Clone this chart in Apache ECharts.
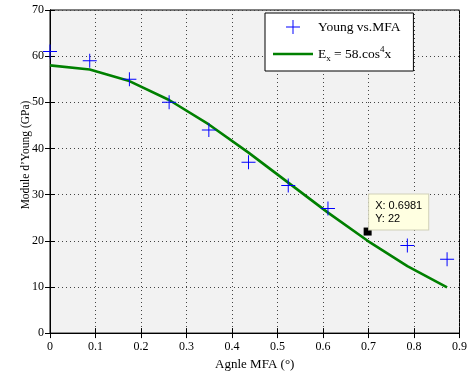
<!DOCTYPE html>
<html><head><meta charset="utf-8">
<script src="https://cdn.jsdelivr.net/npm/echarts@6/dist/echarts.min.js"></script>
<style>html,body{margin:0;padding:0;background:#fff}#c{width:470px;height:376px}</style>
</head><body><div id="c"></div>
<script>
// Data
const angleRad = [0, 0.0873, 0.1745, 0.2618, 0.3491, 0.4363, 0.5236, 0.6109, 0.7854, 0.8727];
const youngMeasured = [61, 59, 55, 50, 44, 37, 32, 27, 19, 16];
const fitAngle = [0, 0.0873, 0.1745, 0.2618, 0.3491, 0.4363, 0.5236, 0.6109, 0.6981, 0.7854, 0.8727];
const fitValues = [58, 57.1, 54.6, 50.5, 45.2, 39.1, 32.6, 26.1, 20.0, 14.5, 9.9];
const tipPoint = [0.6981, 22];
const xTickLabels = ['0','0.1','0.2','0.3','0.4','0.5','0.6','0.7','0.8','0.9'];
const yTickLabels = ['0','10','20','30','40','50','60','70'];

const serif = 'Liberation Serif';
const plus = 'path://M0,9.3h20v1.4h-20zM9.3,0h1.4v20h-1.4z';
const lineIcon = 'path://M0,0h40v2.6h-40z';
const gridLine = {show:true, lineStyle:{color:'#444', type:[1,3], width:1}};

const chart = echarts.init(document.getElementById('c'), null, {renderer:'canvas'});
chart.setOption({
  backgroundColor:'#fff',
  animation:false,
  grid:{left:50, right:9, top:10, bottom:38, show:true, backgroundColor:'#f2f2f2', borderColor:'#000', borderWidth:1},
  graphic:[{
    type:'text', x:26, y:155, rotation:Math.PI/2,
    style:{text:'Module d’Young (GPa)', fontFamily:serif, fontSize:11.5, fill:'#000', align:'center', verticalAlign:'middle'}
  }],
  legend:{
    left:265, top:13, orient:'vertical',
    backgroundColor:'#fff', borderColor:'#000', borderWidth:1, borderRadius:0,
    padding:[7,13,8,8], itemWidth:40, itemHeight:14, itemGap:11,
    textStyle:{fontFamily:serif, fontSize:13.5, color:'#000',
      rich:{
        n:{fontFamily:serif, fontSize:13.5, color:'#000'},
        sub:{fontFamily:serif, fontSize:9, color:'#000', padding:[9,0,0,0]},
        sup:{fontFamily:serif, fontSize:9, color:'#000', padding:[0,0,9,0]}
      }},
    formatter: function(name){
      if(name==='fit') return '{n|E}{sub|x}{n| = 58.cos}{sup|4}{n|x}';
      return name;
    },
    data:[
      {name:'Young vs.MFA', icon:plus, itemStyle:{color:'#0000ff'}},
      {name:'fit', icon:lineIcon, itemStyle:{color:'#008000'}}
    ]
  },
  xAxis:[{
    type:'value', min:0, max:0.9, interval:0.1,
    name:'Agnle MFA (°)', nameLocation:'middle', nameGap:21,
    nameTextStyle:{fontFamily:serif, fontSize:13, color:'#000'},
    axisLine:{show:true, lineStyle:{color:'#000', width:1}},
    axisTick:{show:true, inside:true, length:5, lineStyle:{color:'#000'}},
    axisLabel:{fontFamily:serif, fontSize:12, color:'#000', margin:8,
      formatter:(v,i)=>xTickLabels[i]},
    splitLine:gridLine
  },{
    type:'value', position:'top', min:0, max:0.9, interval:0.1,
    axisLine:{show:true, lineStyle:{color:'#000'}},
    axisTick:{show:true, inside:true, length:5, lineStyle:{color:'#000'}},
    axisLabel:{show:false}, splitLine:{show:false}
  }],
  yAxis:[{
    type:'value', min:0, max:70, interval:10,
    axisLine:{show:true, lineStyle:{color:'#000', width:1}},
    axisTick:{show:true, inside:true, length:5, lineStyle:{color:'#000'}},
    axisLabel:{fontFamily:serif, fontSize:12, color:'#000', margin:6,
      formatter:(v,i)=>yTickLabels[i]},
    splitLine:gridLine
  },{
    type:'value', position:'right', min:0, max:70, interval:10,
    axisLine:{show:true, lineStyle:{color:'#000'}},
    axisTick:{show:true, inside:true, length:5, lineStyle:{color:'#000'}},
    axisLabel:{show:false}, splitLine:{show:false}
  }],
  series:[
    {
      name:'fit', type:'line', data:fitAngle.map((x,i)=>[x,fitValues[i]]),
      showSymbol:false, symbol:'none', color:'#008000',
      lineStyle:{color:'#008000', width:2.6}, z:2
    },
    {
      name:'Young vs.MFA', type:'scatter', data:angleRad.map((x,i)=>[x,youngMeasured[i]]),
      symbol:plus, symbolSize:14, itemStyle:{color:'#0000ff', opacity:1}, z:3
    },
    {
      name:'tip', type:'scatter', data:[tipPoint], symbol:'rect', symbolSize:8,
      itemStyle:{color:'#000', opacity:1}, z:4,
      label:{show:true, position:[5.5,-33], formatter:'X: 0.6981\nY: 22',
        fontFamily:'Liberation Sans', fontSize:11, color:'#000', lineHeight:13,
        backgroundColor:'#ffffe1', borderColor:'#d0d0b8', borderWidth:1,
        padding:[5,6,4,6], align:'left'}
    }
  ]
});
</script></body></html>
